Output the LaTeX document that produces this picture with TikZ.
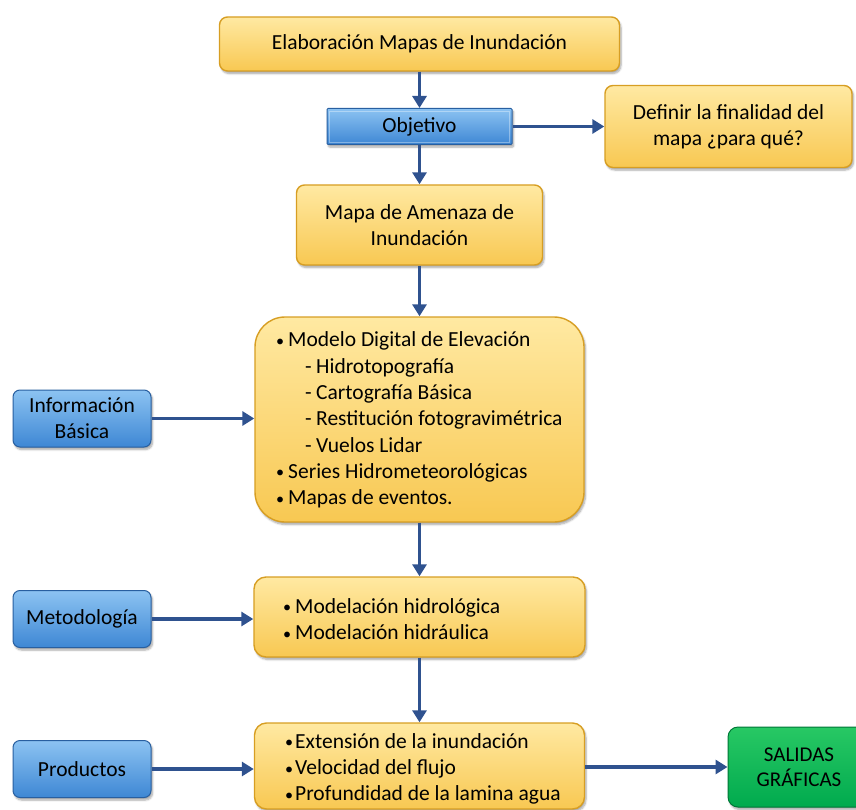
\documentclass[tikz,border=0pt]{standalone}
\usepackage{fontspec}
\usepackage{graphicx}
\setmainfont{Carlito}
\usetikzlibrary{arrows.meta,shadows.blur}

\definecolor{arrowblue}{RGB}{47,82,143}
\definecolor{ytop}{RGB}{255,233,162}
\definecolor{ybot}{RGB}{248,200,82}
\definecolor{yedge}{RGB}{215,158,35}
\definecolor{btop}{RGB}{140,195,242}
\definecolor{bbot}{RGB}{62,135,212}
\definecolor{bedge}{RGB}{40,95,160}
\definecolor{gtop}{RGB}{40,200,100}
\definecolor{gbot}{RGB}{0,170,78}
\definecolor{gedge}{RGB}{0,120,55}

\tikzset{
  shade3d/.style={blur shadow={shadow xshift=1.5pt,shadow yshift=-2.5pt,shadow opacity=35,shadow blur steps=6}},
  yellowbox/.style={shade3d,draw=yedge,line width=1.4pt,top color=ytop,bottom color=ybot,
    rounded corners=#1,align=center,inner sep=0pt,font=\fontsize{21.5}{26}\selectfont},
  yellowbox/.default=8pt,
  bluebox/.style={shade3d,draw=bedge,line width=1pt,top color=btop,bottom color=bbot,
    rounded corners=7pt,align=center,inner sep=0pt,font=\fontsize{21.5}{26}\selectfont,
    minimum width=138pt,minimum height=57pt},
  greenbox/.style={shade3d,draw=gedge,line width=1pt,top color=gtop,bottom color=gbot,
    rounded corners=10pt,align=center,inner sep=0pt,font=\fontsize{21}{25}\selectfont},
  listtext/.style={anchor=west,align=left,inner sep=0pt,font=\fontsize{21.5}{26.3}\selectfont},
  flow/.style={draw=arrowblue,line width=3.2pt,-{Triangle[length=12pt,width=14pt]}},
}
\newcommand{\dotmark}{\raisebox{0.5pt}{\scalebox{0.75}{•}}}
\newcommand{\bul}{\makebox[12pt][l]{\dotmark}}
\newcommand{\subl}{\hspace*{29pt}\makebox[11pt][l]{-}}

\begin{document}
\begin{tikzpicture}[x=1pt,y=-1pt]
\useasboundingbox (0,0) rectangle (856,810);

% main column
\node[yellowbox,minimum width=400pt,minimum height=54pt] (elab) at (419.5,44) {Elaboración Mapas de Inundación};
\node[shade3d,draw=bedge,line width=1pt,top color=btop,bottom color=bbot,rounded corners=1pt,
      inner sep=0pt,minimum width=185pt,minimum height=36pt,font=\fontsize{21.5}{26}\selectfont]
      (obj) at (419.5,126.5) {Objetivo};
\draw[white,opacity=0.35,line width=0.8pt] ([shift={(3pt,3pt)}]obj.south west) rectangle ([shift={(-3pt,-3pt)}]obj.north east);
\node[yellowbox,minimum width=247pt,minimum height=82pt] (fin) at (728.5,126.5) {Definir la finalidad del\\mapa ¿para qué?};
\node[yellowbox,minimum width=246pt,minimum height=80pt] (amen) at (419.5,225) {Mapa de Amenaza de\\Inundación};

\node[yellowbox=30pt,minimum width=329pt,minimum height=205pt] (info) at (419.5,419.5) {};
\node[listtext] (infotxt) at (276,420) {\bul Modelo Digital de Elevación\\
  \subl Hidrotopografía\\
  \subl Cartografía Básica\\
  \subl Restitución fotogravimétrica\\
  \subl Vuelos Lidar\\
  \bul Series Hidrometeorológicas\\
  \bul Mapas de eventos.};

\node[yellowbox=12pt,minimum width=331pt,minimum height=80pt] (model) at (419.5,617) {};
\node[listtext] (modeltxt) at (283,619) {\bul Modelación hidrológica\\
  \bul Modelación hidráulica};

\node[yellowbox=12pt,minimum width=330pt,minimum height=86pt] (prod) at (419.5,766) {};
\node[listtext] (prodtxt) at (285,769) {\makebox[10pt][l]{\dotmark}Extensión de la inundación\\
  \makebox[10pt][l]{\dotmark}Velocidad del flujo\\
  \makebox[10pt][l]{\dotmark}Profundidad de la lamina agua};

% side inputs
\node[bluebox] (basica) at (82,418.5) {Información\\Básica};
\node[bluebox] (metod) at (82,619) {Metodología};
\node[bluebox] (produc) at (82,769) {Productos};

% output, running off the right edge
\node[greenbox,minimum width=142pt,minimum height=80pt] (salidas) at (799,767) {SALIDAS\\GRÁFICAS};

% connectors
\draw[flow] (elab.south) -- (obj.north);
\draw[flow] (obj.south) -- (amen.north);
\draw[flow] (obj.east) -- (obj.east -| fin.west);
\draw[flow] (amen.south) -- (info.north);
\draw[flow] (info.south) -- (model.north);
\draw[flow] (model.south) -- (prod.north);
\draw[flow] (basica.east) -- (basica.east -| info.west);
\draw[flow] (metod.east) -- (metod.east -| model.west);
\draw[flow] (produc.east) -- (produc.east -| prod.west);
\draw[flow] (prod.east |- salidas.west) -- (salidas.west);
\end{tikzpicture}
\end{document}
